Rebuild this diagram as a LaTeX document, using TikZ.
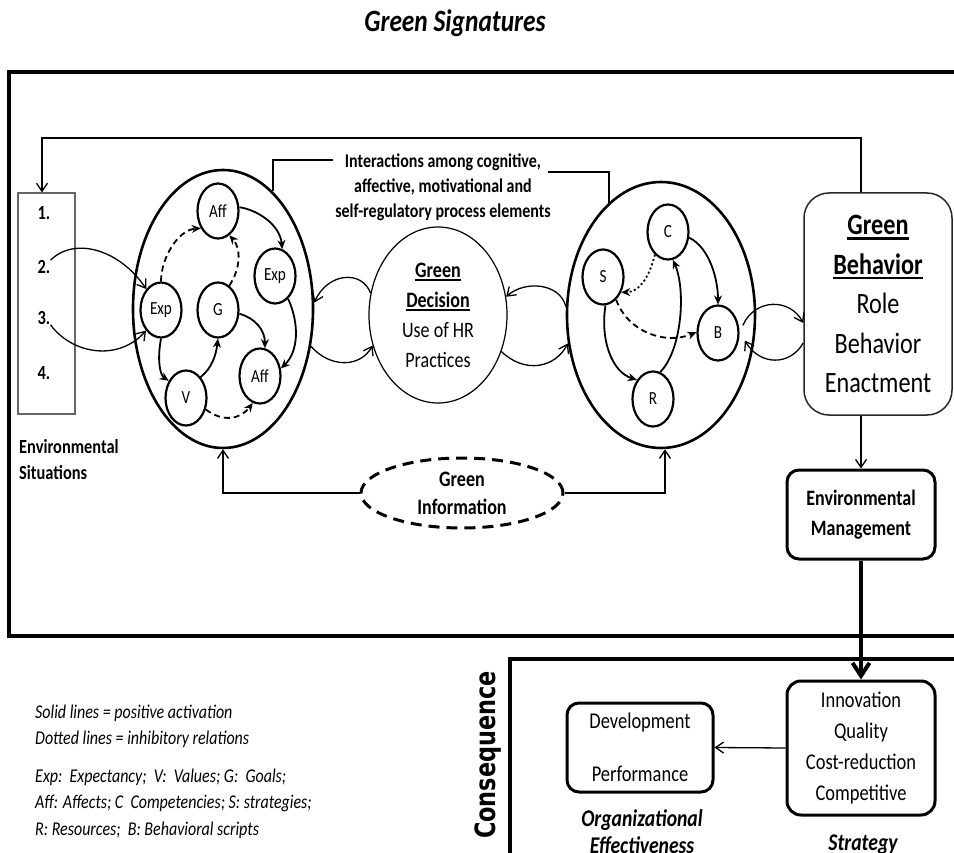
\documentclass[tikz,border=0pt]{standalone}
\usepackage{fontspec}
\setmainfont{Carlito}[FakeStretch=0.82]
\newfontfamily\consfont{DejaVu Sans}[FakeStretch=0.8]
\usetikzlibrary{arrows.meta,shapes.geometric,calc}
\newcommand\fsz[2]{\fontsize{#1}{#2}\selectfont}
\newcommand\gul[3]{\setbox0\hbox{#3}\rlap{\rule[-#1]{\wd0}{#2}}\box0}
\tikzset{
 smallnd/.style={ellipse,draw,line width=2.2pt,minimum width=41pt,minimum height=55pt,inner sep=0pt,font={\fsz{18.5}{20}}},
 bigell/.style={ellipse,draw,line width=2.6pt,inner sep=0pt},
 inarr/.style={line width=1.8pt,-{Stealth[length=9pt,width=8pt]}},
 dsh/.style={dash pattern=on 6pt off 4pt},
 dtt/.style={dash pattern=on 2pt off 2.5pt},
 conn/.style={line width=1.3pt,-{Straight Barb[length=8pt,width=11pt]}},
 framel/.style={line width=4pt},
 rbox/.style={draw,rectangle,rounded corners=12pt,line width=3pt,inner sep=0pt,align=center},
 txt/.style={inner sep=0pt,align=center},
}
\begin{document}
\begin{tikzpicture}[x=1pt,y=-1pt]
\useasboundingbox (0,0) rectangle (954,853);

% title
\node[txt,font={\fsz{31}{36}\bfseries\itshape}] (title) at (455,23) {Green Signatures};

% frames
\coordinate (tfr) at (954,72); \coordinate (tfl) at (9,72);
\coordinate (bfl) at (9,636); \coordinate (bfr) at (954,636);
\draw[framel] (tfr) -- (tfl) -- (bfl) -- (bfr);
\coordinate (cfr) at (954,659); \coordinate (cfl) at (510,659); \coordinate (cfb) at (510,860);
\draw[framel] (cfr) -- (cfl) -- (cfb);

% environmental situations
\node[draw=black!60,line width=1.3pt,minimum width=57pt,minimum height=221pt,inner sep=0pt] (env) at (46.5,303.5) {};
\node[txt,font={\fsz{20}{24}\bfseries}] (n1) at (44,213) {1.};
\node[txt,font={\fsz{20}{24}\bfseries}] (n2) at (44,267) {2.};
\node[txt,font={\fsz{20}{24}\bfseries}] (n3) at (44,318) {3.};
\node[txt,font={\fsz{20}{24}\bfseries}] (n4) at (44,373) {4.};
\node[txt,align=left,anchor=west,font={\fsz{20}{26}\bfseries}] (envtxt) at (19,460) {Environmental\\Situations};

% left ellipse
\node[bigell,minimum width=180pt,minimum height=278pt] (lell) at (223,309) {};
\node[smallnd] (a1) at (218,211) {Aff};
\node[smallnd] (e2) at (275,276) {Exp};
\node[smallnd] (e1) at (161,310) {Exp};
\node[smallnd] (g) at (218,310) {G};
\node[smallnd] (a2) at (260,376) {Aff};
\node[smallnd] (v) at (186,398) {V};

% right ellipse
\node[bigell,minimum width=188pt,minimum height=266pt] (rell) at (661,315) {};
\node[smallnd] (c) at (668,232) {C};
\node[smallnd] (s) at (603,277) {S};
\node[smallnd] (b) at (718,333) {B};
\node[smallnd] (r) at (653,399) {R};

% decision
\node[ellipse,draw,line width=1.2pt,minimum width=138pt,minimum height=176pt,inner sep=0pt,align=center,font={\fsz{22}{30}}] (dec) at (438,315)
 {\gul{4pt}{1.8pt}{\bfseries Green}\\\gul{4pt}{1.8pt}{\bfseries Decision}\\Use of HR\\Practices};

% green behavior
\node[draw=black!85,rectangle,rounded corners=25pt,line width=1.5pt,minimum width=148pt,minimum height=222pt,inner sep=0pt,align=center,font={\fsz{29.5}{39.5}}] (gb) at (878,304)
 {\gul{5pt}{2.5pt}{\bfseries Green}\\\gul{5pt}{2.5pt}{\bfseries Behavior}\\Role\\Behavior\\Enactment};

% environmental management
\node[rbox,minimum width=148pt,minimum height=89pt,font={\fsz{22}{30}\bfseries}] (em) at (861,514.5) {Environmental\\Management};

% green information
\node[ellipse,draw,line width=3pt,dash pattern=on 11pt off 7pt,minimum width=202pt,minimum height=70pt,inner sep=0pt,align=center,font={\fsz{22}{28}\bfseries}] (info) at (462,493) {Green\\Information};

% interactions
\node[txt,font={\fsz{19.5}{25}\bfseries}] (inter) at (443,187) {Interactions among cognitive,\\affective, motivational and\\self-regulatory process elements};
\coordinate (ib1) at (333,160); \coordinate (ib2) at (548,172);
\draw[line width=1.8pt] (lell.67) |- (ib1);
\draw[line width=1.8pt] (ib2) -| (rell.115);

% consequence part
\node[rbox,rounded corners=14pt,minimum width=148pt,minimum height=134pt,font={\fsz{22.5}{30.7}}] (strat) at (861,748) {Innovation\\Quality\\Cost-reduction\\Competitive};
\node[rbox,minimum width=146pt,minimum height=89pt,font={\fsz{22.5}{26.5}}] (dev) at (640,747.5) {Development\\[26.5pt]Performance};
\node[txt,font={\fsz{24}{27}\bfseries\itshape}] (orgeff) at (642,831.5) {Organizational\\Effectiveness};
\node[txt,font={\fsz{24}{27}\bfseries\itshape}] (strattxt) at (863,845) {Strategy};
\node[txt,rotate=90,font={\consfont\fsz{28}{32}\bfseries}] (cons) at (488,755) {Consequence};

% legend
\node[txt,align=left,anchor=west,font={\fsz{19.5}{26.5}\itshape}] (leg1) at (35,726.5) {Solid lines = positive activation\\Dotted lines = inhibitory relations};
\node[txt,align=left,anchor=west,font={\fsz{19.5}{26.5}\itshape}] (leg2) at (35,803.5) {Exp:\ \ Expectancy;\ \ V:\ \ Values; G:\ \ Goals;\\Aff: Affects; C\ \ Competencies; S: strategies;\\R: Resources;\ \ B: Behavioral scripts};

% left group edges
\draw[inarr,dsh] (e1.north) .. controls (161,258) and (178,230) .. (a1.225);
\draw[inarr,dsh] (g.65) .. controls (241,268) and (241,248) .. (a1.295);
\draw[inarr] (a1.10) .. controls (258,210) and (280,225) .. (e2.75);
\draw[inarr] (e2.-60) .. controls (300,325) and (298,352) .. (a2.20);
\draw[inarr] (g.-10) .. controls (255,318) and (265,330) .. (a2.80);
\draw[inarr] (e1.south) .. controls (157,360) and (160,375) .. (v.135);
\draw[inarr] (v.55) .. controls (212,368) and (216,355) .. (g.south);
\draw[inarr,dsh] (v.-30) .. controls (222,422) and (240,420) .. (a2.255);

% right group edges
\draw[inarr,dtt] (c.240) .. controls (650,275) and (640,292) .. (s.-40);
\draw[inarr] (c.-15) .. controls (710,248) and (718,280) .. (b.north);
\draw[inarr,dsh] (s.-60) .. controls (628,332) and (665,345) .. (b.178);
\draw[inarr] (s.-85) .. controls (600,340) and (612,372) .. (r.130);
\draw[inarr] (r.75) .. controls (682,350) and (686,290) .. (c.-80);

% connectors
\draw[conn] (dec.162) .. controls (362,270) and (328,272) .. (lell.4);
\draw[conn] (lell.-23) .. controls (330,368) and (360,368) .. (dec.205);
\draw[conn] (rell.175) .. controls (560,283) and (525,280) .. (dec.15);
\draw[conn] (dec.-30) .. controls (525,374) and (555,368) .. (rell.197);
\draw[conn] ([xshift=4pt]b.20) .. controls (755,298) and (790,298) .. ([yshift=-19pt]gb.west);
\draw[conn] ([yshift=-39pt]gb.west) .. controls (790,366) and (760,366) .. ([xshift=6pt]b.-20);
\coordinate (fbk) at (42,138);
\draw[conn] ([xshift=-17pt]gb.north) |- (fbk) -- ([xshift=-4.5pt]env.north);
\draw[conn] (n2.north east) .. controls (75,236) and (120,250) .. (e1.125);
\draw[conn] (n3.south east) .. controls (72,354) and (118,362) .. (e1.234);
\draw[conn] (info.west) -| (lell.south);
\draw[conn] (info.east) -| ([xshift=4pt]rell.south);
\draw[conn] ([xshift=-17pt]gb.south) -- (em.north);
\draw[line width=4pt,-{Straight Barb[length=13pt,width=17pt]}] (em.south) -- (strat.north);
\draw[conn] (strat.west) -- (dev.east);
\end{tikzpicture}
\end{document}
